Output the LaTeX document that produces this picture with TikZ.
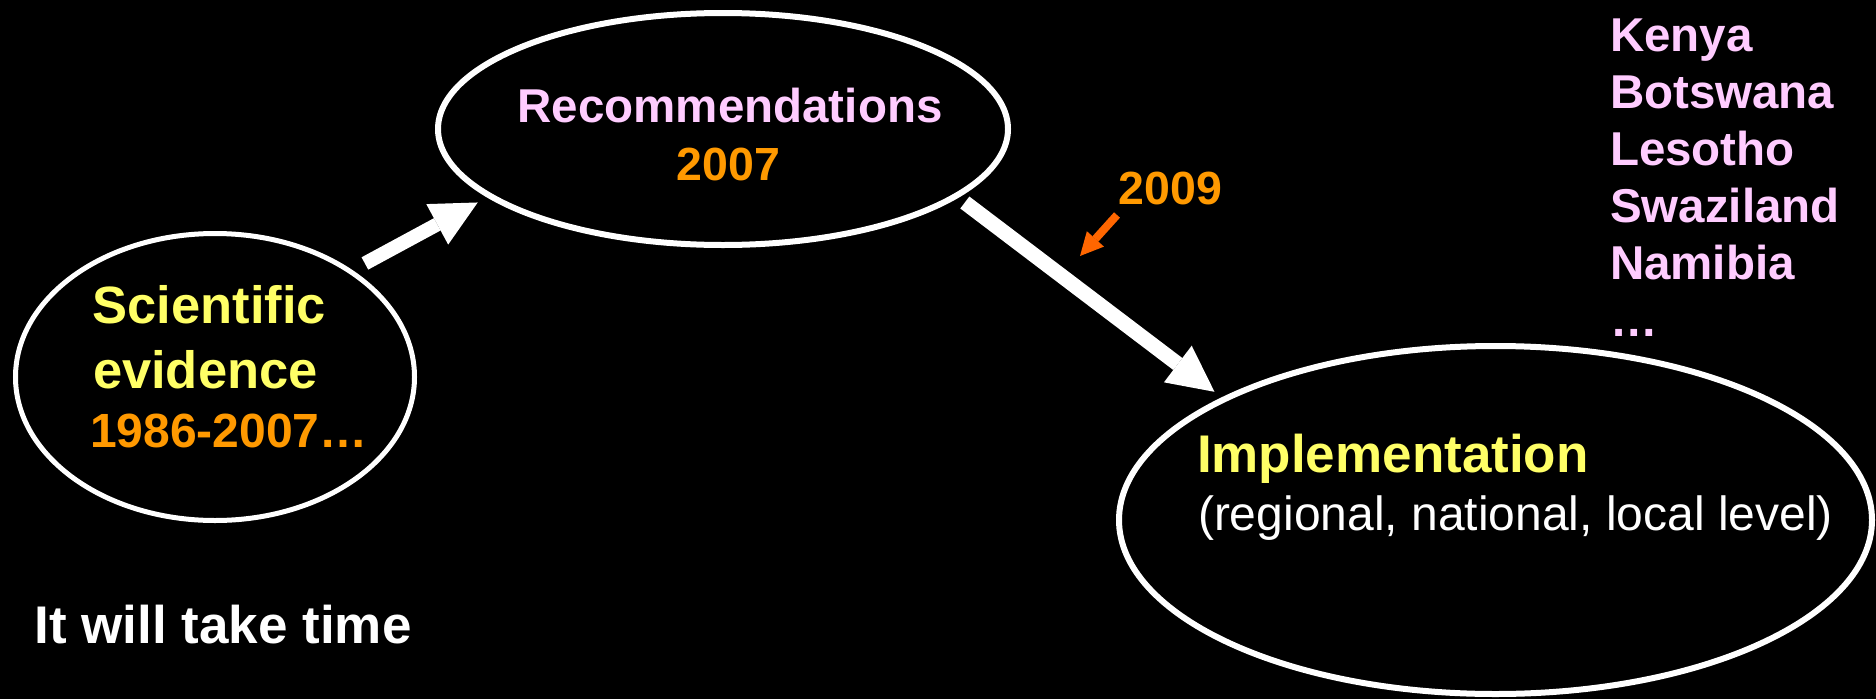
\documentclass[tikz,border=0pt]{standalone}
\usepackage{fontspec}
\setmainfont{Liberation Sans}
\usetikzlibrary{arrows.meta,shapes.geometric}
\definecolor{pinklabel}{HTML}{FFCCFF}
\definecolor{yellowlabel}{HTML}{FFFF66}
\definecolor{orangelabel}{HTML}{FF9900}
\definecolor{pointer}{HTML}{FF6600}
\begin{document}
\begin{tikzpicture}[x=1pt,y=-1pt,
  ring/.style={ellipse, draw=white, line width=#1, outer sep=0pt, inner sep=0pt},
  boldtext/.style={inner sep=0pt, outer sep=0pt, anchor=base west,
    font=\fontsize{#1}{#1}\selectfont\bfseries},
  plaintext/.style={inner sep=0pt, outer sep=0pt, anchor=base west,
    font=\fontsize{#1}{#1}\selectfont},
  bigarrow/.style={draw=white, line width=#1,
    -{Triangle[width=46pt,length=46pt,line width=0pt]}},
  pointerarrow/.style={draw=pointer, line width=8pt,
    -{Triangle[width=23pt,length=23pt,line width=0pt]}}
]
% canvas
\fill[black] (0,0) rectangle (1876,699);
\useasboundingbox (0,0) rectangle (1876,699);

% the three stages
\node[ring=5pt, minimum width=399pt, minimum height=287pt] (sci) at (215,377) {};
\node[ring=6pt, minimum width=570pt, minimum height=232pt] (rec) at (723,129) {};
\node[ring=6pt, minimum width=753pt, minimum height=348pt] (impl) at (1495.5,520) {};

% stage labels
\node[boldtext=52.5, text=yellowlabel] (sciA) at (92.5,323) {Scientific};
\node[boldtext=52.5, text=yellowlabel] (sciB) at (93,388) {evidence};
\node[boldtext=48, text=orangelabel] (sciC) at (90,447) {1986-2007…};

\node[boldtext=47.5, text=pinklabel, anchor=base] (recA) at (730,122) {Recommendations};
\node[boldtext=46.5, text=orangelabel, anchor=base] (recB) at (728.5,180) {2007};

\node[boldtext=53, text=yellowlabel] (implA) at (1197,472) {Implementation};
\node[plaintext=48, text=white] (implB) at (1198,530) {(regional, national, local level)};

% countries
\foreach \name [count=\i] in {Kenya,Botswana,Lesotho,Swaziland,Namibia,…}
  \node[boldtext=47.5, text=pinklabel] (country\i) at (1610,{51+57*(\i-1)}) {\name};

\node[boldtext=53, text=white] (note) at (34.5,643) {It will take time};

% year of the second step
\node[boldtext=46.5, text=orangelabel] (yr) at (1118.5,204) {2009};

% flow arrows
\draw[bigarrow=14pt, shorten <=16.8pt, shorten >=14pt] (sci.38) -- (rec.196);
\draw[bigarrow=15pt, shorten <=11.1pt, shorten >=12.4pt] (rec.344) -- (impl.156);

% pointer from the year to the arrow
\coordinate (ptrTail) at (1117,215);
\coordinate (ptrTip) at (1080,256);
\draw[pointerarrow] (ptrTail) -- (ptrTip);
\end{tikzpicture}
\end{document}
